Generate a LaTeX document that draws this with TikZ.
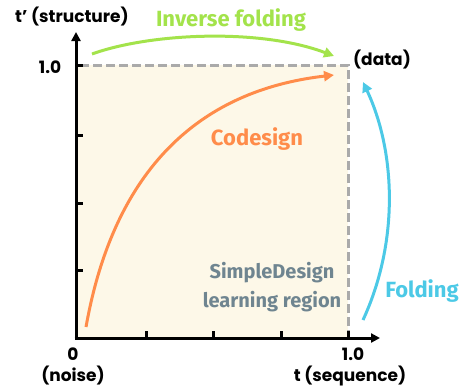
\documentclass[tikz,border=0pt]{standalone}
\usepackage{fontspec}
\setmainfont{Poppins}
\newfontfamily\lab{Fira Sans}
\usetikzlibrary{arrows.meta}
\definecolor{cream}{HTML}{FDF8E8}
\definecolor{dashgray}{HTML}{AAAAAA}
\definecolor{orng}{HTML}{FF8C4A}
\definecolor{grn}{HTML}{A3E34B}
\definecolor{blu}{HTML}{4CC9E6}
\definecolor{slate}{HTML}{6F8590}
\tikzset{
  axis/.style={line width=3pt, -{Triangle[length=9pt,width=9pt]}},
  tickmark/.style={line width=3pt},
  blacklab/.style={font=\fontsize{17}{19}\selectfont\bfseries, text=black, inner sep=0pt},
  colorlab/.style={font=\lab\fontsize{22}{26}\selectfont\bfseries, inner sep=0pt},
  carrow/.style={line width=3pt, -{Triangle[length=10pt,width=10pt]}},
}
\begin{document}
\begin{tikzpicture}[x=1pt,y=-1pt]
\useasboundingbox (0,0) rectangle (462,389);
% region
\fill[cream] (76,65) rectangle (348,338);
\draw[dashgray, line width=3pt, dash pattern=on 9pt off 4pt] (80,65) -- (348,65) -- (348,338);
% axes
\coordinate (O) at (76,338);
\coordinate (ytop) at (76,32);
\coordinate (xend) at (380,338);
\draw[axis] (76,339.5) -- (ytop);
\draw[axis] (74.5,338) -- (xend);
% ticks
\foreach \y in {65,135,203,270} \draw[tickmark] (76,\y) -- (83,\y);
\foreach \x in {146,213,281,348} \draw[tickmark] (\x,338) -- (\x,331);
% labels
\node[blacklab] (ylab) at (72,17) {t' (structure)};
\node[blacklab] (y1) at (50,67) {1.0};
\node[blacklab] (data) at (382,60) {(data)};
\node[blacklab] (x0) at (73,354) {0};
\node[blacklab] (noise) at (73,376) {(noise)};
\node[blacklab] (x1) at (353,354) {1.0};
\node[blacklab] (xlab) at (350,376) {t (sequence)};
\node[colorlab, text=grn] (inv) at (231,20) {Inverse folding};
\node[colorlab, text=orng] (code) at (257,139) {Codesign};
\node[colorlab, text=slate, align=center, font=\lab\fontsize{20}{29}\selectfont\bfseries] (simple) at (272,287) {SimpleDesign\\learning region};
\node[colorlab, text=blu] (fold) at (422,291) {Folding};
% curves
\coordinate (cs) at (86,327);
\coordinate (ce) at (334,75);
\draw[carrow, orng] (cs) .. controls (105,220) and (160,95) .. (ce);
\coordinate (is) at (92,54);
\coordinate (ie) at (334,56);
\draw[carrow, grn] (is) .. controls (150,33) and (260,28) .. (ie);
\coordinate (fs) at (363,320);
\coordinate (fe) at (363,82);
\draw[carrow, blu] (fs) .. controls (400,240) and (395,150) .. (fe);
\end{tikzpicture}
\end{document}
